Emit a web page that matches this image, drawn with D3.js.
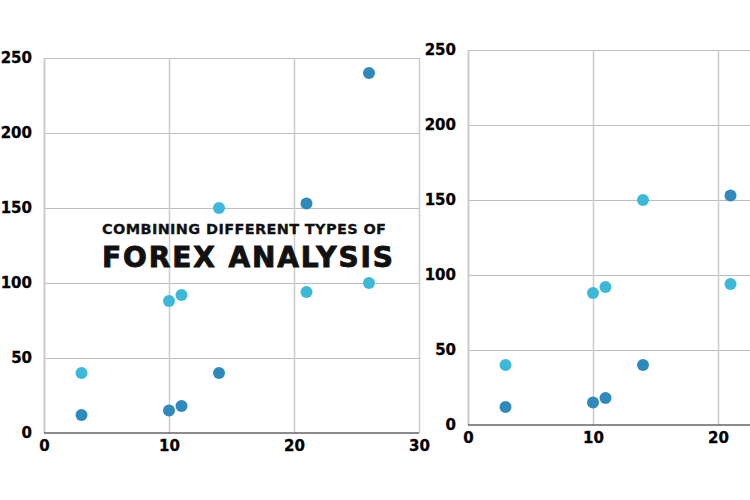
<!DOCTYPE html>
<html>
<head>
<meta charset="utf-8">
<script src="https://cdn.jsdelivr.net/npm/d3@7"></script>
<style>
  body { margin: 0; background: #fff; overflow: hidden; }
  .tick text { font-family: "DejaVu Sans", sans-serif; font-weight: bold; font-size: 15px; fill: #000; stroke: #000; stroke-width: 0.3; }
  .title { font-family: "DejaVu Sans", sans-serif; font-weight: bold; fill: #111; stroke: #111; }
</style>
</head>
<body>
<div id="chart"></div>
<script>
// values
var xValues = [3, 10, 11, 14, 21, 26];
var darkValues = [12, 15, 18, 40, 153, 240];
var lightValues = [40, 88, 92, 150, 94, 100];
var xTicks = [0, 10, 20, 30];
var yTicks = [0, 50, 100, 150, 200, 250];

var darkColor = "#2e89bd";
var lightColor = "#3cb8d9";

var svg = d3.select("#chart")
  .append("svg")
  .attr("width", 750)
  .attr("height", 500);

// one scatter panel; the right one runs past the window edge
function drawPanel(left, top, plotW, xMax, clipW) {
  var plotH = 375;
  var x = d3.scaleLinear().domain([0, xMax]).range([0, plotW]);
  var y = d3.scaleLinear().domain([0, 250]).range([plotH, 0]);
  var shownTicks = xTicks.filter(t => x(t) <= clipW);

  var g = svg.append("g")
    .attr("transform", `translate(${left}, ${top})`);

  // horizontal grid
  g.append("g")
    .call(d3.axisLeft(y).tickValues(yTicks.slice(1)).tickSize(-clipW).tickFormat(""))
    .call(s => s.select(".domain").remove())
    .selectAll("line").attr("stroke", "#bdbdbd");

  // vertical grid
  g.append("g")
    .attr("transform", `translate(0, ${plotH})`)
    .call(d3.axisBottom(x).tickValues(shownTicks).tickSize(-plotH).tickFormat(""))
    .call(s => s.select(".domain").remove())
    .selectAll("line").attr("stroke", "#cccccc").attr("stroke-width", 1.5);

  // axes
  var yAxis = g.append("g")
    .call(d3.axisLeft(y).tickValues(yTicks).tickSize(0).tickPadding(12))
    .call(s => s.select(".domain").attr("stroke", "#c8c8c8").attr("stroke-width", 1.5));
  yAxis.selectAll(".tick text").attr("dy", "0.3em");

  g.append("g")
    .attr("transform", `translate(0, ${plotH})`)
    .call(d3.axisBottom(x).tickValues(shownTicks).tickSize(0).tickPadding(7))
    .call(s => s.select(".domain").attr("d", `M0,0H${Math.min(plotW, clipW)}`).attr("stroke", "#666").attr("stroke-width", 1.5));

  g.selectAll(".dark")
    .data(xValues)
    .enter()
    .append("circle")
    .attr("class", "dark")
    .attr("cx", d => x(d))
    .attr("cy", (d, i) => y(darkValues[i]))
    .attr("r", 6)
    .attr("fill", darkColor);

  g.selectAll(".light")
    .data(xValues)
    .enter()
    .append("circle")
    .attr("class", "light")
    .attr("cx", d => x(d))
    .attr("cy", (d, i) => y(lightValues[i]))
    .attr("r", 6)
    .attr("fill", lightColor);
}

drawPanel(44, 58, 375, 30, 375);
drawPanel(468, 50, 375, 30, 282);

// title overlay
svg.append("text")
  .attr("class", "title")
  .attr("x", 102)
  .attr("y", 234)
  .attr("font-size", 14.5)
  .attr("stroke-width", 0.3)
  .attr("textLength", 284)
  .attr("lengthAdjust", "spacing")
  .text("COMBINING DIFFERENT TYPES OF");

svg.append("text")
  .attr("class", "title")
  .attr("x", 102)
  .attr("y", 267)
  .attr("font-size", 28)
  .attr("stroke-width", 0.9)
  .attr("textLength", 291)
  .attr("lengthAdjust", "spacing")
  .text("FOREX ANALYSIS");
</script>
</body>
</html>
